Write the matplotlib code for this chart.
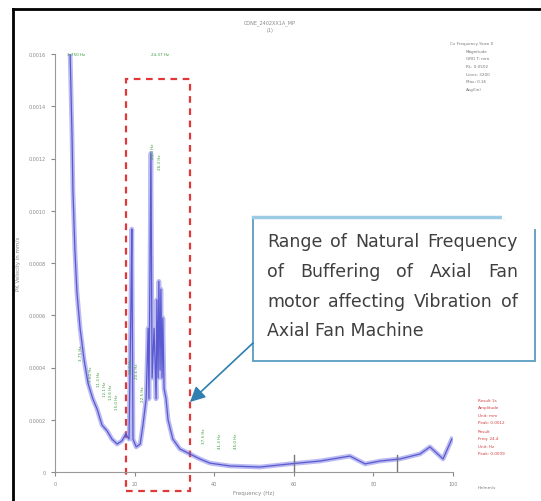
import numpy as np
import matplotlib
matplotlib.use("Agg")
import matplotlib.pyplot as plt
from matplotlib.patches import Rectangle

# spectrum (frequency in Hz, amplitude)
freq = [3.8, 4.0, 4.3, 4.5, 5.0, 5.5, 6.3, 7.3, 8.3, 9.5, 10.6, 11.8, 13.1, 14.3,
        15.6, 16.8, 17.8, 18.6, 19.1, 19.3, 19.6, 20.4, 21.4, 22.1, 22.9, 23.4,
        23.6, 24.1, 24.4, 24.9, 25.4, 25.6, 25.9, 26.1, 26.4, 26.6, 26.9, 27.1,
        27.4, 27.9, 28.4, 29.6, 31.4, 33.9, 36.4, 38.9, 44.0, 51.5, 59.0, 66.6,
        74.1, 77.9, 81.7, 86.7, 91.7, 94.2, 97.5, 99.7]
amp = [1.60, 1.47, 1.27, 1.08, 0.85, 0.69, 0.55, 0.43, 0.34, 0.28, 0.24, 0.18,
       0.157, 0.126, 0.107, 0.119, 0.145, 0.126, 0.66, 0.93, 0.126, 0.096, 0.107,
       0.18, 0.28, 0.55, 0.28, 1.22, 0.36, 0.55, 0.28, 0.66, 0.36, 0.73, 0.39,
       0.70, 0.36, 0.59, 0.32, 0.28, 0.20, 0.126, 0.088, 0.069, 0.050, 0.034,
       0.023, 0.019, 0.031, 0.042, 0.061, 0.031, 0.042, 0.050, 0.069, 0.096,
       0.050, 0.126]
amp = [a * 1e-3 for a in amp]

x_ticks = [0, 20, 40, 60, 80, 100]
y_ticks = [0, 0.0002, 0.0004, 0.0006, 0.0008, 0.0010, 0.0012, 0.0014, 0.0016]

# little green peak labels
peak_x = [6.5, 9.0, 11.0, 12.5, 14.0, 15.5, 19.2, 20.5, 22.0, 24.5, 26.5, 37.5, 41.5, 45.5]
peak_y = [0.00043, 0.00035, 0.00033, 0.00029, 0.00028, 0.00024, 0.00038, 0.00036,
          0.00027, 0.00120, 0.00116, 0.00011, 0.00009, 0.00009]
peak_txt = ["3.75 Hz", "7.50 Hz", "11.3 Hz", "12.1 Hz", "13.6 Hz", "15.0 Hz",
            "19.2 Hz", "20.6 Hz", "22.5 Hz", "24.4 Hz", "26.3 Hz", "37.5 Hz",
            "41.3 Hz", "45.0 Hz"]

natural_band = [17.8, 33.9]

W, H = 541, 502
fig = plt.figure(figsize=(W / 100, H / 100), dpi=100)
fig.patch.set_facecolor("white")

ax = fig.add_axes([55 / W, 1 - 473 / H, 398 / W, 418 / H])
ax.plot(freq, amp, color="#7878e4", lw=3.4, alpha=0.5, solid_joinstyle="round")
ax.plot(freq, amp, color="#4848cc", lw=0.9, alpha=0.85)
ax.set_xlim(0, 100)
ax.set_ylim(0, 0.0016)
ax.set_xticks(x_ticks)
ax.set_xticklabels([str(t) for t in x_ticks])
ax.set_yticks(y_ticks)
ax.set_yticklabels(["0"] + ["%.4f" % t for t in y_ticks[1:]])
ax.tick_params(labelsize=3.5, colors="#888888", length=3, width=0.8)
for s in ["top", "right"]:
    ax.spines[s].set_visible(False)
for s in ["left", "bottom"]:
    ax.spines[s].set_color("#999999")
ax.set_xlabel("Frequency (Hz)", fontsize=4, color="#888888", labelpad=3)
ax.set_ylabel("PK Velocity in mm/s", fontsize=4, color="#888888", labelpad=6)

for px, py, t in zip(peak_x, peak_y, peak_txt):
    ax.text(px, py, t, fontsize=3, color="#3a9a3a", rotation=90,
            ha="center", va="bottom")
ax.text(3.0, 0.0016, "3.750 Hz", fontsize=3, color="#3a9a3a", va="center")
ax.text(24.0, 0.0016, "24.37 Hz", fontsize=3, color="#3a9a3a", va="center")
# harmonic markers
for hx in [60, 86]:
    ax.axvline(hx, ymax=0.04, color="#777777", lw=1)

# dashed red box around the natural frequency band
ax.add_patch(Rectangle((natural_band[0], -0.000073),
                       natural_band[1] - natural_band[0], 0.001577,
                       fill=False, ec="#e03838", ls=(0, (3, 2.5)), lw=1.6,
                       clip_on=False))

# overlay in pixel coordinates for frame, header texts and callout
ov = fig.add_axes([0, 0, 1, 1])
ov.set_xlim(0, W)
ov.set_ylim(H, 0)
ov.axis("off")
ov.patch.set_alpha(0)
ov.plot([13, 13], [10, H], color="black", lw=2)
ov.plot([13, W], [10, 10], color="black", lw=2)

ov.text(270, 24, "CONE_2402XX1A_MP", fontsize=3.5, color="#888888", ha="center")
ov.text(270, 32, "(1)", fontsize=3.5, color="#888888", ha="center")
ov.text(450, 45, "Cx Frequency Scan X", fontsize=3, color="#777777")
for i, t in enumerate(["Magnitude", "GRD T: mm", "RL: 0.0502", "Lines: 3200",
                       "Max: 0.16", "Avg(lin)"]):
    ov.text(466, 53 + 7.5 * i, t, fontsize=3, color="#777777")
for i, t in enumerate(["Result 1s", "Amplitude", "Unit: mm", "Peak: 0.0012"]):
    ov.text(478, 402 + 7.5 * i, t, fontsize=3, color="#d04040")
for i, t in enumerate(["Result", "Freq: 24.4", "Unit: Hz", "Peak: 0.0009"]):
    ov.text(478, 433 + 7.5 * i, t, fontsize=3, color="#d04040")
ov.text(478, 489, "Hz/mm/s", fontsize=3, color="#777777")

# callout box
bx0, by0, bx1, by1 = 253, 218, 535, 362
ov.add_patch(Rectangle((bx0, by0), bx1 - bx0, by1 - by0, fc="white",
                       ec="#5a9cc0", lw=1.3, zorder=3))
ov.plot([bx0, 503], [by0, by0], color="#9ccbe6", lw=2.5, zorder=4)
ov.plot([504, bx1 + 2], [by0, by0], color="white", lw=3, zorder=4)
ov.plot([bx1, bx1], [by0 - 1, 228], color="white", lw=3, zorder=4)
ov.annotate("", xy=(190, 403), xytext=(bx0, by1 - 18),
            arrowprops=dict(arrowstyle="-|>,head_length=0.9,head_width=0.45",
                            color="#2f7fb0", lw=1.2, shrinkA=0, shrinkB=0),
            zorder=4)

lines = ["Range of Natural Frequency", "of Buffering of Axial Fan",
         "motor affecting Vibration of", "Axial Fan Machine"]
tx0, tx1 = 267, 518
line_y = [242, 272, 302, 331]
fs = 12.5
fam = "DejaVu Sans"
fig.canvas.draw()
r = fig.canvas.get_renderer()
for k, (ln, yy) in enumerate(zip(lines, line_y)):
    words = ln.split()
    if k == len(lines) - 1:
        ov.text(tx0, yy, ln, fontsize=fs, family=fam, color="#3f3f3f",
                va="center", zorder=5)
        continue
    objs = [ov.text(0, yy, w, fontsize=fs, family=fam, color="#3f3f3f",
                    va="center", zorder=5) for w in words]
    widths = [o.get_window_extent(renderer=r).width for o in objs]
    gap = (tx1 - tx0 - sum(widths)) / (len(words) - 1)
    cx = tx0
    for o, wd in zip(objs, widths):
        o.set_x(cx)
        cx += wd + gap

fig.savefig("out.png", dpi=100)
